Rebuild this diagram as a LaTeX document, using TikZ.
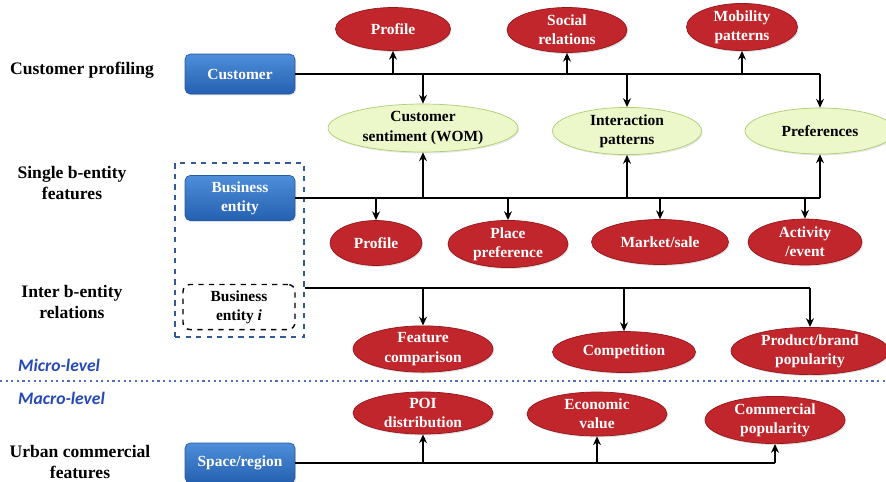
\documentclass[tikz,border=0pt]{standalone}
\usepackage{fontspec}
\setmainfont{Liberation Serif}
\newfontfamily\calfont{Carlito}
\usepackage{xcolor}
\usetikzlibrary{arrows.meta,shapes.geometric,shadows}
\definecolor{redfill}{RGB}{192,38,44}
\definecolor{redline}{RGB}{150,22,28}
\definecolor{greenfill}{RGB}{236,247,202}
\definecolor{greenline}{RGB}{172,207,112}
\definecolor{bluetop}{RGB}{78,142,218}
\definecolor{bluebot}{RGB}{36,96,176}
\definecolor{blueline}{RGB}{40,88,160}
\definecolor{levelblue}{RGB}{36,72,184}
\definecolor{grpblue}{RGB}{50,90,150}
\tikzset{>={Stealth[length=5pt,width=4.5pt]}}
\tikzset{
  redell/.style={ellipse,draw=redline,fill=redfill,text=white,inner sep=0pt,
    align=center,font=\rmfamily\bfseries\fontsize{8.8}{11}\selectfont,
    drop shadow={opacity=0.25,shadow xshift=0.6pt,shadow yshift=-0.8pt}},
  greenell/.style={ellipse,draw=greenline,fill=greenfill,text=black,inner sep=0pt,
    align=center,font=\rmfamily\bfseries\fontsize{8.8}{11}\selectfont,
    drop shadow={opacity=0.2,shadow xshift=0.6pt,shadow yshift=-0.8pt}},
  bluebox/.style={rectangle,rounded corners=3pt,draw=blueline,top color=bluetop,
    bottom color=bluebot,text=white,align=center,minimum width=2.2cm,minimum height=0.8cm,
    font=\rmfamily\bfseries\fontsize{8.8}{11}\selectfont,
    drop shadow={opacity=0.25,shadow xshift=0.6pt,shadow yshift=-0.8pt}},
  rowlabel/.style={align=center,font=\rmfamily\bfseries\fontsize{10}{11.5}\selectfont},
  levellabel/.style={anchor=west,text=levelblue,font=\calfont\bfseries\itshape\fontsize{10}{12}\selectfont},
  sz/.style 2 args={minimum width=#1cm,minimum height=#2cm},
  link/.style={line width=1.1pt}
}

\begin{document}
\begin{tikzpicture}[x=0.02cm,y=-0.02cm]
    \useasboundingbox (0,0) rectangle (886,481);
    \node[rowlabel] (lcust) at (82,70) {Customer profiling};
    \node[rowlabel] (lsingle) at (72,183) {Single b-entity\\features};
    \node[rowlabel] (linter) at (72,302) {Inter b-entity\\relations};
    \node[rowlabel] (lurban) at (80,462) {Urban commercial\\features};
    \node[levellabel] (lmicro) at (12,365) {Micro-level};
    \node[levellabel] (lmacro) at (12,398) {Macro-level};
    \draw[levelblue!80,line width=1.2pt,dotted] (0,381) -- (886,381);

    \node[draw=grpblue,dashed,line width=0.8pt,sz={2.58}{3.48}] (grp) at (239.5,250) {};
    \node[bluebox] (cust) at (240,74) {Customer};
    \node[bluebox] (bent) at (240,198) {Business\\entity};
    \node[draw=black,dashed,rounded corners=4pt,line width=0.8pt,sz={2.24}{0.8},align=center,
      font=\rmfamily\bfseries\fontsize{8.8}{11}\selectfont] (benti) at (239,307) {Business\\entity \textit{i}};
    \node[bluebox] (space) at (240,463) {Space/region};

    \node[redell,sz={2.3}{0.86}] (cprof) at (393,29) {Profile};
    \node[redell,sz={2.4}{0.9}] (social) at (567,30) {Social\\relations};
    \node[redell,sz={2.22}{0.9}] (mob) at (742,27) {Mobility\\patterns};

    \node[greenell,sz={3.8}{0.96}] (senti) at (423,128) {Customer\\sentiment (WOM)};
    \node[greenell,sz={2.98}{0.92}] (inter) at (627,131) {Interaction\\patterns};
    \node[greenell,sz={3.0}{0.92}] (pref) at (820,131) {Preferences};

    \node[redell,sz={1.84}{0.9}] (bprof) at (376,243) {Profile};
    \node[redell,sz={2.4}{0.92}] (place) at (508,244) {Place\\preference};
    \node[redell,sz={2.74}{0.9}] (market) at (660,242) {Market/sale};
    \node[redell,sz={2.28}{0.92}] (act) at (805,242) {Activity\\/event};

    \node[redell,sz={2.8}{0.88}] (feat) at (423,349) {Feature\\comparison};
    \node[redell,sz={2.86}{0.82}] (comp) at (624,352) {Competition};
    \node[redell,sz={3.16}{0.82}] (prod) at (810,351) {Product/brand\\popularity};

    \node[redell,sz={2.8}{0.84}] (poi) at (423,413) {POI\\distribution};
    \node[redell,sz={2.8}{0.88}] (econ) at (597,414) {Economic\\value};
    \node[redell,sz={2.8}{0.9}] (comm) at (775,420) {Commercial\\popularity};

    \coordinate (iL) at (grp.east |- 0,288);

    \draw[link] (cust.east) -- (cust.east -| pref.center);
    \foreach \n in {cprof,social,mob}
        \draw[link,->] (cust.east -| \n.center) -- (\n);
    \foreach \n in {senti,inter,pref}
        \draw[link,->] (cust.east -| \n.center) -- (\n);

    \draw[link] (bent.east) -- (bent.east -| pref.center);
    \foreach \n in {senti,inter,pref}
        \draw[link,->] (bent.east -| \n.center) -- (\n);
    \foreach \n in {bprof,place,market,act}
        \draw[link,->] (bent.east -| \n.center) -- (\n);

    \draw[link] (iL) -- (iL -| prod.center);
    \foreach \n in {feat,comp,prod}
        \draw[link,->] (iL -| \n.center) -- (\n);

    \draw[link] (space.east) -- (space.east -| comm.center);
    \foreach \n in {poi,econ,comm}
        \draw[link,->] (space.east -| \n.center) -- (\n);
\end{tikzpicture}
\end{document}
